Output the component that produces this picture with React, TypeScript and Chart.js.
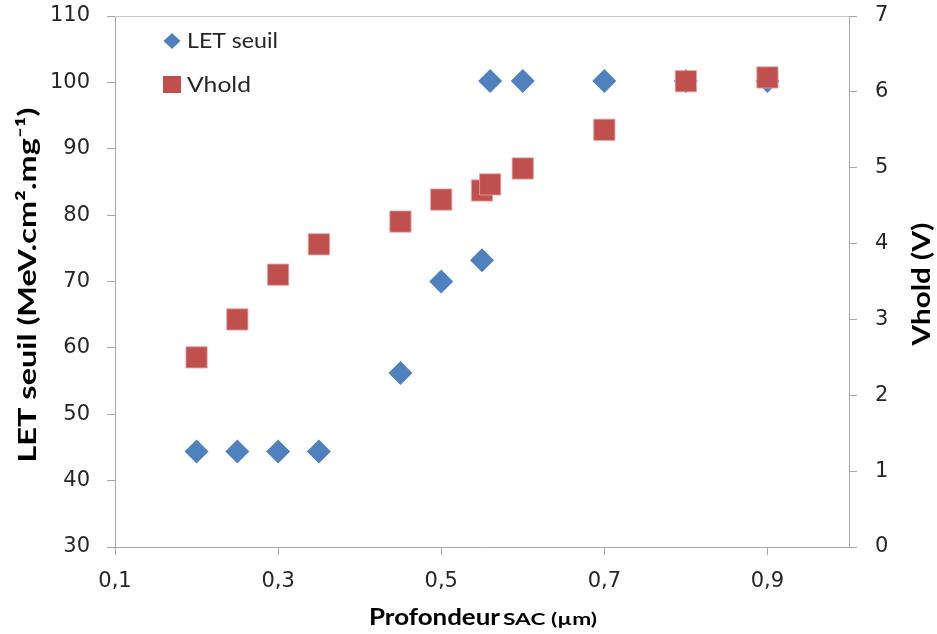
import React, { useEffect, useRef } from "react";
import { Chart, registerables } from "chart.js";

Chart.register(...registerables);

const depthLET = [0.2, 0.25, 0.3, 0.35, 0.45, 0.5, 0.55, 0.56, 0.6, 0.7, 0.8, 0.9];
const letSeuil = [44.4, 44.4, 44.4, 44.4, 56.2, 70.0, 73.2, 100.2, 100.2, 100.2, 100.2, 100.2];
const depthVhold = [0.2, 0.25, 0.3, 0.35, 0.45, 0.5, 0.55, 0.56, 0.6, 0.7, 0.8, 0.9];
const vhold = [2.5, 3.0, 3.59, 3.99, 4.29, 4.58, 4.7, 4.78, 4.99, 5.5, 6.14, 6.19];
const xTicks = [0.1, 0.3, 0.5, 0.7, 0.9];
const leftTicks = [30, 40, 50, 60, 70, 80, 90, 100, 110];
const rightTicks = [0, 1, 2, 3, 4, 5, 6, 7];

const TICKFONT = "'DejaVu Sans', sans-serif";
const FONT = "Lato, sans-serif";
const BLUE = "#4F81BD";
const RED = "#C0504D";
const AXIS = "#A6A6A6";
const TEXT = "#262626";

function fillFit(ctx: any, text: string, x: number, y: number, width: number, align: string) {
  const w = ctx.measureText(text).width;
  const k = width / w;
  ctx.save();
  ctx.translate(x, y);
  ctx.scale(k, 1);
  ctx.textAlign = align;
  ctx.fillText(text, 0, 0);
  ctx.restore();
}

const decor = {
  id: "decor",
  afterDraw(chart: any) {
    const ctx = chart.ctx;
    const a = chart.chartArea;
    ctx.save();
    // top line
    ctx.strokeStyle = "#C8C8C8";
    ctx.lineWidth = 1;
    ctx.beginPath();
    ctx.moveTo(a.left, Math.round(a.top) + 0.5);
    ctx.lineTo(a.right, Math.round(a.top) + 0.5);
    ctx.stroke();

    // legend
    const lx = 172;
    ctx.fillStyle = BLUE;
    ctx.beginPath();
    ctx.moveTo(lx, 33);
    ctx.lineTo(lx + 8.5, 41);
    ctx.lineTo(lx, 49);
    ctx.lineTo(lx - 8.5, 41);
    ctx.closePath();
    ctx.fill();
    ctx.fillStyle = RED;
    ctx.fillRect(lx - 9, 76, 18, 17);
    ctx.fillStyle = TEXT;
    ctx.font = `21px ${FONT}`;
    ctx.textBaseline = "alphabetic";
    fillFit(ctx, chart.data.datasets[0].label, 187, 48, 91, "left");
    fillFit(ctx, chart.data.datasets[1].label, 187, 92, 64, "left");

    // left title
    ctx.fillStyle = "#000";
    ctx.font = `bold 25px ${FONT}`;
    ctx.save();
    ctx.translate(36, 285);
    ctx.rotate(-Math.PI / 2);
    fillFit(ctx, "LET seuil (MeV.cm\u00B2.mg\u207B\u00B9)", 0, 0, 355, "center");
    ctx.restore();

    // right title
    ctx.save();
    ctx.translate(930, 284);
    ctx.rotate(-Math.PI / 2);
    fillFit(ctx, "Vhold (V)", 0, 0, 123, "center");
    ctx.restore();

    // x title (mixed sizes)
    ctx.font = `bold 22px ${FONT}`;
    fillFit(ctx, "Profondeur", 369, 625, 131, "left");
    ctx.font = `bold 17px ${FONT}`;
    fillFit(ctx, "SAC (\u00B5m)", 503, 625, 94, "left");
    ctx.restore();
  },
};

export default function App() {
  const ref = useRef<HTMLCanvasElement | null>(null);
  useEffect(() => {
    document.body.style.margin = "0";
    const canvas = ref.current!;
    const tickGrid = {
      display: true,
      drawOnChartArea: false,
      drawTicks: true,
      tickLength: 8,
      color: AXIS,
    };
    const tickFont = { family: TICKFONT, size: 21 };
    const chart = new Chart(canvas, {
      type: "scatter",
      data: {
        datasets: [
          {
            label: "LET seuil",
            data: depthLET.map((x, i) => ({ x, y: letSeuil[i] })),
            yAxisID: "y",
            order: 1,
            pointStyle: "rectRot",
            pointRadius: 12,
            backgroundColor: BLUE,
            borderColor: BLUE,
            borderWidth: 0,
          },
          {
            label: "Vhold",
            data: depthVhold.map((x, i) => ({ x, y: vhold[i] })),
            yAxisID: "y1",
            order: 0,
            pointStyle: "rect",
            pointRadius: 15,
            backgroundColor: RED,
            borderColor: "rgba(230,160,160,0.8)",
            borderWidth: 1,
          },
        ],
      },
      options: {
        responsive: false,
        animation: false,
        layout: { padding: { top: 15, left: 0, right: 0, bottom: 0 } },
        plugins: { legend: { display: false }, tooltip: { enabled: false } },
        scales: {
          x: {
            type: "linear",
            min: 0.1,
            max: 1.0,
            afterBuildTicks: (s: any) => {
              s.ticks = xTicks.map((v) => ({ value: v }));
            },
            afterFit: (s: any) => {
              s.height = 87;
              s.paddingLeft = 0;
              s.paddingRight = 0;
            },
            grid: tickGrid,
            border: { display: true, color: AXIS, width: 1 },
            ticks: {
              color: TEXT,
              font: tickFont,
              padding: 14,
              maxRotation: 0,
              callback: (v: any) => Number(v).toFixed(1).replace(".", ","),
            },
          },
          y: {
            type: "linear",
            position: "left",
            min: 30,
            max: 110,
            afterBuildTicks: (s: any) => {
              s.ticks = leftTicks.map((v) => ({ value: v }));
            },
            afterFit: (s: any) => {
              s.width = 115;
              s.paddingTop = 0;
              s.paddingBottom = 0;
            },
            grid: tickGrid,
            border: { display: true, color: AXIS, width: 1 },
            ticks: {
              color: TEXT,
              font: tickFont,
              padding: 17,
            },
          },
          y1: {
            type: "linear",
            position: "right",
            min: 0,
            max: 7,
            afterBuildTicks: (s: any) => {
              s.ticks = rightTicks.map((v) => ({ value: v }));
            },
            afterFit: (s: any) => {
              s.width = 88;
              s.paddingTop = 0;
              s.paddingBottom = 0;
            },
            grid: tickGrid,
            border: { display: true, color: AXIS, width: 1 },
            ticks: {
              color: TEXT,
              font: tickFont,
              padding: 18,
            },
          },
        },
      },
      plugins: [decor],
    });
    return () => chart.destroy();
  }, []);
  return <canvas ref={ref} width={937} height={634} style={{ display: "block" }} />;
}
